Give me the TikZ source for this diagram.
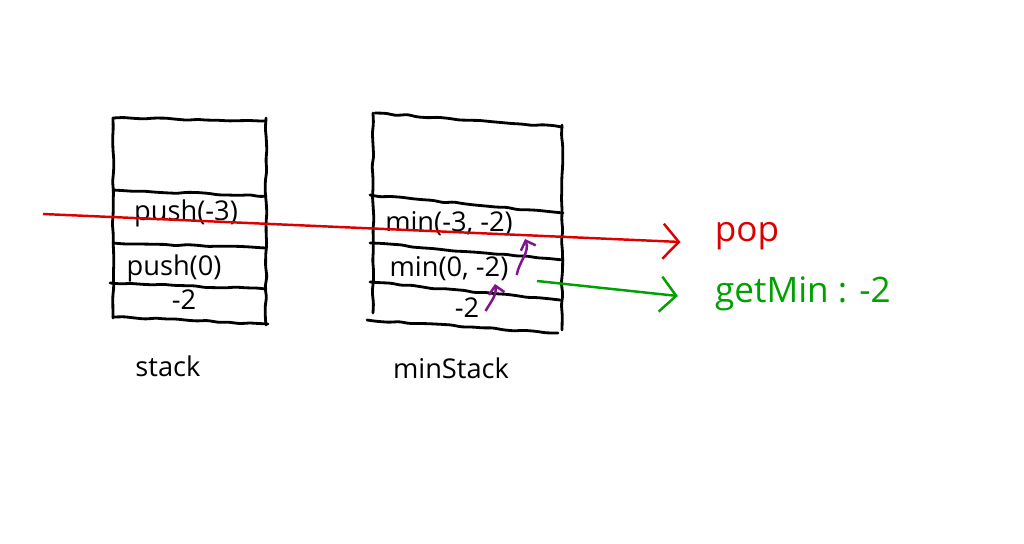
\documentclass[tikz,border=0pt]{standalone}
\usepackage{fontspec}
\setmainfont{Open Sans}
\usepackage{tikz}
\usetikzlibrary{arrows.meta,positioning,decorations.pathmorphing}
\definecolor{penred}{RGB}{220,0,0}
\definecolor{pengreen}{RGB}{0,160,0}
\definecolor{penpurple}{RGB}{128,20,140}

\begin{document}
\begin{tikzpicture}[x=0.02cm, y=-0.02cm,
        ink/.style={line width=1.6pt, line cap=round, rounded corners=1pt, decorate, decoration={random steps, segment length=6pt, amplitude=0.5pt}},
        cell/.style={font=\fontsize{15.5}{18}\selectfont, inner sep=0pt},
        note/.style={font=\fontsize{20}{22}\selectfont, inner sep=0pt},
        arrow/.style={line width=1.4pt, -{Straight Barb[length=9pt, width=20pt]}},
        flip/.style={line width=1.4pt, penpurple, -{Straight Barb[length=4.5pt, width=9pt]}}
    ]
        \pgfmathsetseed{7}
        \useasboundingbox (0,0) rectangle (1024,544);

        % stack
        \draw[ink] (113,118) -- (113,318);
        \draw[ink] (266,118) -- (266,325);
        \draw[ink] (113,118) -- (266,121);
        \draw[ink] (113,190) -- (266,196);
        \draw[ink] (113,243) -- (266,248);
        \draw[ink] (110,283) -- (266,289);
        \draw[ink] (113,317) -- (268,324);

        % minStack
        \draw[ink] (373,113) -- (373,313);
        \draw[ink] (562,125) -- (562,330);
        \draw[ink] (375,113) -- (562,127);
        \draw[ink] (370,195) -- (563,213);
        \draw[ink] (370,243) -- (563,260);
        \draw[ink] (370,282) -- (560,300);
        \draw[ink] (367,320) -- (558,333);

        % Nodes
        \node[cell] (push3) at (186,213) {push(-3)};
        \node[cell] (push0) at (174,268) {push(0)};
        \node[cell] (base) at (184,300) {-2};
        \node[cell] (min3) at (449,224) {min(-3, -2)};
        \node[cell] (min0) at (449,269) {min(0, -2)};
        \node[cell] (minbase) at (467,308) {-2};
        \node[cell] (stacklabel) at (168,366) {stack};
        \node[cell] (minstacklabel) at (451,368) {minStack};
        \node[note, text=penred] (popnote) at (747,236) {pop};
        \node[note, text=pengreen] (getminnote) at (803,294) {getMin : -2};

        % Arrows
        \coordinate (popfrom) at (43,214);
        \coordinate (minfrom) at (537,281);
        \coordinate (liftlow) at (495,284);
        \coordinate (lifthigh) at (525,239);
        \draw[arrow, penred] (popfrom) -- ([shift={(-34,6)}]popnote.west);
        \draw[arrow, pengreen] (minfrom) -- ([shift={(-37,2)}]getminnote.west);
        \draw[flip] ([shift={(6,3)}]minbase.east) to[out=60, in=-80] (liftlow);
        \draw[flip] ([shift={(8,6)}]min0.east) to[out=80, in=-70] (lifthigh);
    \end{tikzpicture}
\end{document}
